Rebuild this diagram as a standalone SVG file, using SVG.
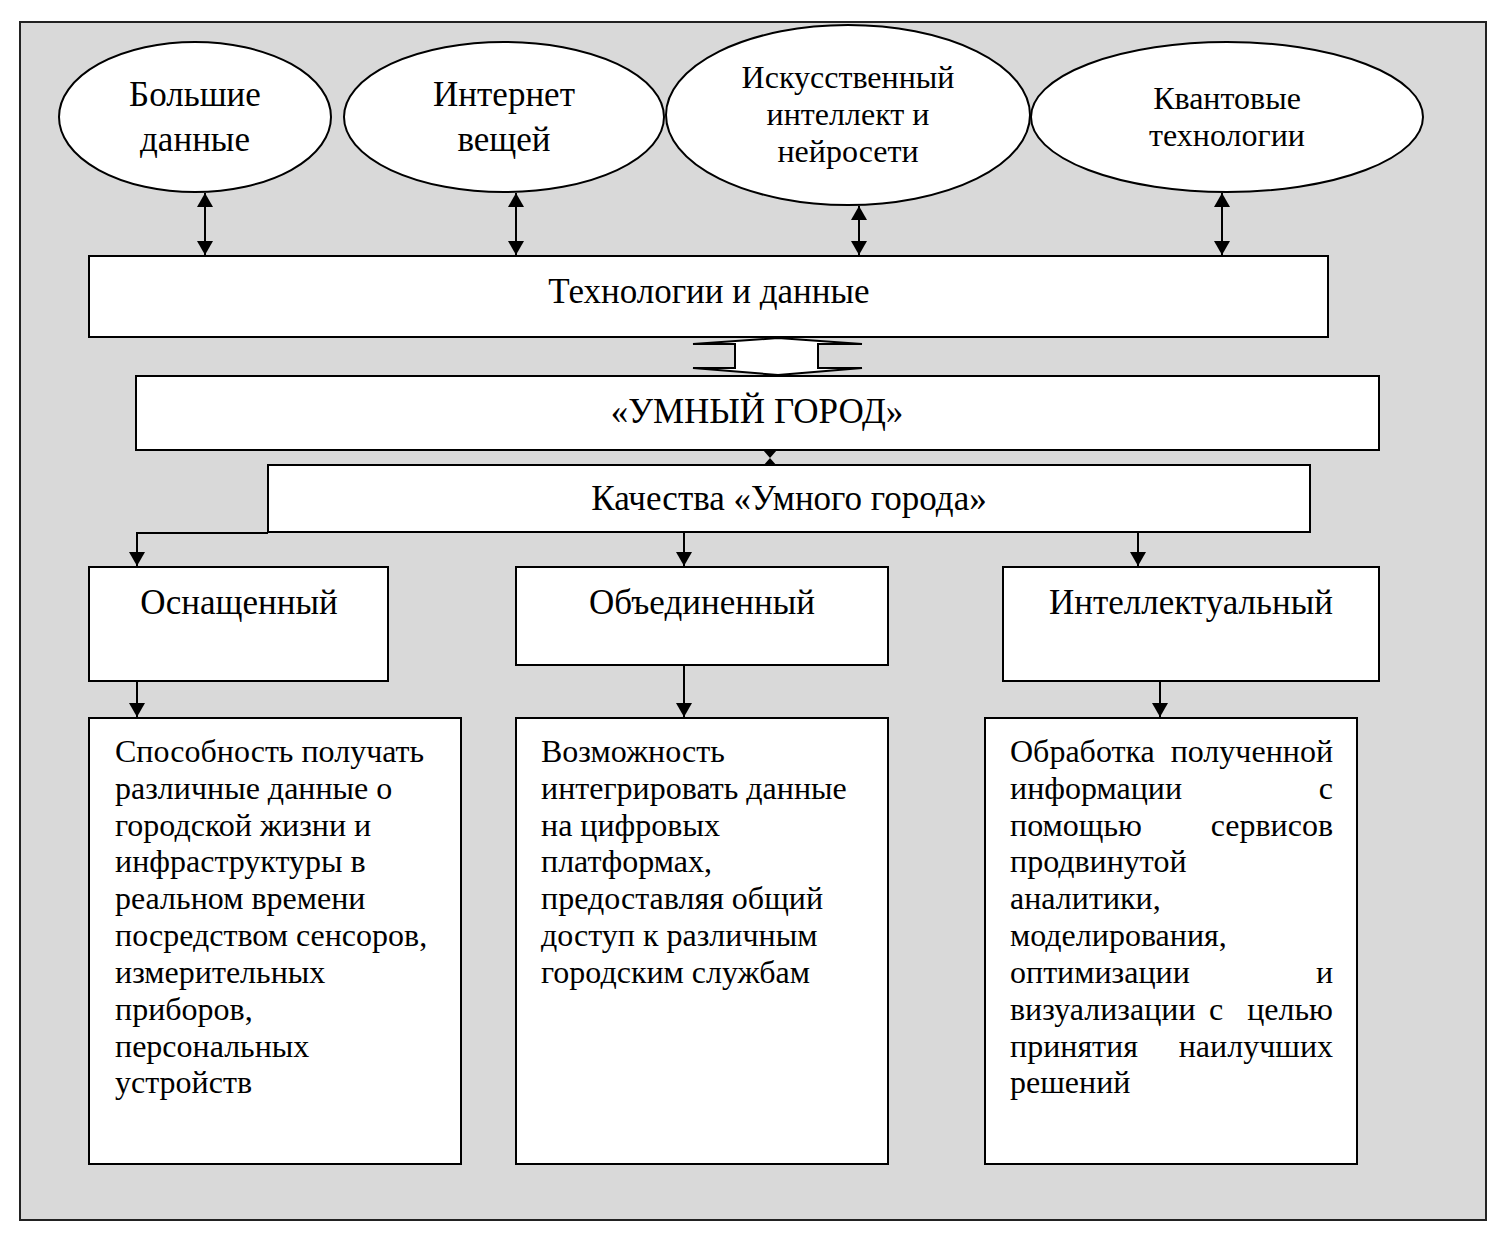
<svg xmlns="http://www.w3.org/2000/svg" width="1512" height="1241" viewBox="0 0 1512 1241">
<defs>
<marker id="ah" markerWidth="14" markerHeight="16" refX="14" refY="8" orient="auto" markerUnits="userSpaceOnUse">
<path d="M0,0 L14,8 L0,16 Z" fill="#000"/>
</marker>
<marker id="ahs" markerWidth="14" markerHeight="16" refX="0" refY="8" orient="auto" markerUnits="userSpaceOnUse">
<path d="M14,0 L0,8 L14,16 Z" fill="#000"/>
</marker>
<style>
.box{fill:#fff;stroke:#000;stroke-width:2}
.t{font-family:"Liberation Serif","Times New Roman",serif;fill:#000}
.c{text-anchor:middle}
.e{text-anchor:end}
.f35{font-size:35px}
.f32{font-size:32px}
.ln{stroke:#000;stroke-width:2;fill:none}
</style>
</defs>
<rect x="0" y="0" width="1512" height="1241" fill="#fff"/>
<rect x="20" y="22" width="1466" height="1198" fill="#d9d9d9" stroke="#222" stroke-width="2"/>

<g id="n-bigdata">
<ellipse cx="195" cy="117" rx="136" ry="75" class="box"/>
<text class="t c f35" x="195" y="106">Большие</text>
<text class="t c f35" x="195" y="151">данные</text>
</g>
<g id="n-iot">
<ellipse cx="504" cy="117" rx="160" ry="75" class="box"/>
<text class="t c f35" x="504" y="106">Интернет</text>
<text class="t c f35" x="504" y="151">вещей</text>
</g>
<g id="n-ai">
<ellipse cx="848" cy="115" rx="182" ry="90" class="box"/>
<text class="t c f32" x="848" y="88">Искусственный</text>
<text class="t c f32" x="848" y="125">интеллект и</text>
<text class="t c f32" x="848" y="162">нейросети</text>
</g>
<g id="n-quantum">
<ellipse cx="1227" cy="117" rx="196" ry="75" class="box"/>
<text class="t c f32" x="1227" y="109">Квантовые</text>
<text class="t c f32" x="1227" y="146">технологии</text>
</g>

<g id="n-tech">
<rect x="89" y="256" width="1239" height="81" class="box"/>
<text class="t c f35" x="709" y="303">Технологии и данные</text>
</g>
<g id="n-smartcity">
<rect x="136" y="376" width="1243" height="74" class="box"/>
<text class="t c f35" x="757" y="423">«УМНЫЙ ГОРОД»</text>
</g>
<g id="n-qualities">
<rect x="268" y="465" width="1042" height="67" class="box"/>
<text class="t c f35" x="789" y="510">Качества «Умного города»</text>
</g>

<g id="n-equipped">
<rect x="89" y="567" width="299" height="114" class="box"/>
<text class="t c f35" x="239" y="614">Оснащенный</text>
</g>
<g id="n-united">
<rect x="516" y="567" width="372" height="98" class="box"/>
<text class="t c f35" x="702" y="614">Объединенный</text>
</g>
<g id="n-intel">
<rect x="1003" y="567" width="376" height="114" class="box"/>
<text class="t c f35" x="1191" y="614">Интеллектуальный</text>
</g>

<g id="n-desc1">
<rect x="89" y="718" width="372" height="446" class="box"/>
<g class="t f32">
<text x="115" y="762">Способность получать</text>
<text x="115" y="799">различные данные о</text>
<text x="115" y="836">городской жизни и</text>
<text x="115" y="872">инфраструктуры в</text>
<text x="115" y="909">реальном времени</text>
<text x="115" y="946">посредством сенсоров,</text>
<text x="115" y="983">измерительных</text>
<text x="115" y="1020">приборов,</text>
<text x="115" y="1057">персональных</text>
<text x="115" y="1093">устройств</text>
</g>
</g>
<g id="n-desc2">
<rect x="516" y="718" width="372" height="446" class="box"/>
<g class="t f32">
<text x="541" y="762">Возможность</text>
<text x="541" y="799">интегрировать данные</text>
<text x="541" y="836">на цифровых</text>
<text x="541" y="872">платформах,</text>
<text x="541" y="909">предоставляя общий</text>
<text x="541" y="946">доступ к различным</text>
<text x="541" y="983">городским службам</text>
</g>
</g>
<g id="n-desc3">
<rect x="985" y="718" width="372" height="446" class="box"/>
<g class="t f32">
<text x="1010" y="762">Обработка</text><text class="e" x="1333" y="762">полученной</text>
<text x="1010" y="799">информации</text><text class="e" x="1333" y="799">с</text>
<text x="1010" y="836">помощью</text><text class="e" x="1333" y="836">сервисов</text>
<text x="1010" y="872">продвинутой</text>
<text x="1010" y="909">аналитики,</text>
<text x="1010" y="946">моделирования,</text>
<text x="1010" y="983">оптимизации</text><text class="e" x="1333" y="983">и</text>
<text x="1010" y="1020">визуализации</text><text x="1209" y="1020">с</text><text class="e" x="1333" y="1020">целью</text>
<text x="1010" y="1057">принятия</text><text class="e" x="1333" y="1057">наилучших</text>
<text x="1010" y="1093">решений</text>
</g>
</g>

<g id="connectors">
<line class="ln" x1="205" y1="193" x2="205" y2="255" marker-start="url(#ahs)" marker-end="url(#ah)"/>
<line class="ln" x1="516" y1="193" x2="516" y2="255" marker-start="url(#ahs)" marker-end="url(#ah)"/>
<line class="ln" x1="859" y1="206" x2="859" y2="255" marker-start="url(#ahs)" marker-end="url(#ah)"/>
<line class="ln" x1="1222" y1="193" x2="1222" y2="255" marker-start="url(#ahs)" marker-end="url(#ah)"/>
<polygon points="778,338 862,344 818,344 818,368 862,368 778,375 693,368 735,368 735,344 693,344" fill="#fff" stroke="#000" stroke-width="2" stroke-linejoin="miter"/>
<polygon points="763,450 777,450 770,458 777,466 763,466 770,458" fill="#000"/>
<polyline class="ln" points="268,533 137,533 137,566" marker-end="url(#ah)"/>
<line class="ln" x1="684" y1="533" x2="684" y2="566" marker-end="url(#ah)"/>
<line class="ln" x1="1138" y1="533" x2="1138" y2="566" marker-end="url(#ah)"/>
<line class="ln" x1="137" y1="682" x2="137" y2="717" marker-end="url(#ah)"/>
<line class="ln" x1="684" y1="666" x2="684" y2="717" marker-end="url(#ah)"/>
<line class="ln" x1="1160" y1="682" x2="1160" y2="717" marker-end="url(#ah)"/>
</g>
</svg>
